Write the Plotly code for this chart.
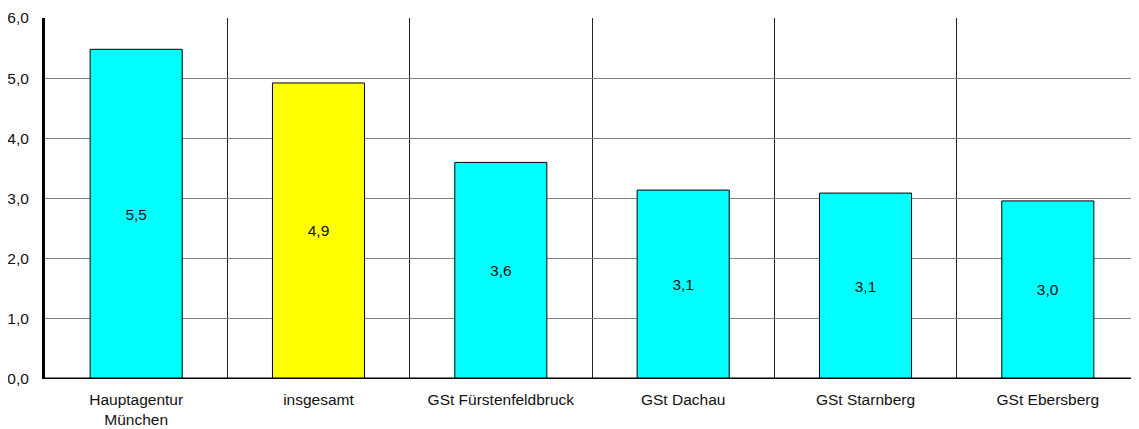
import plotly.graph_objects as go

categories = ["Hauptagentur<br>München", "insgesamt", "GSt Fürstenfeldbruck", "GSt Dachau", "GSt Starnberg", "GSt Ebersberg"]
values = [5.48, 4.92, 3.60, 3.14, 3.09, 2.96]
labels = ["5,5", "4,9", "3,6", "3,1", "3,1", "3,0"]
colors = ["#00FFFF", "#FFFF00", "#00FFFF", "#00FFFF", "#00FFFF", "#00FFFF"]
ytick_vals = [0, 1, 2, 3, 4, 5, 6]

xpos = list(range(len(categories)))
dividers = [i + 0.5 for i in xpos[:-1]]

fig = go.Figure(go.Bar(
    x=xpos, y=values, width=0.505,
    marker=dict(color=colors, line=dict(color="#000000", width=1)),
    text=labels, textposition="inside", insidetextanchor="middle",
    textfont=dict(family="Liberation Sans, Arial", size=15.5, color="#111111"),
    textangle=0,
))

fig.update_layout(
    width=1131, height=421,
    margin=dict(l=37, r=0, t=10, b=50),
    paper_bgcolor="white", plot_bgcolor="white",
    separators=",.",
    showlegend=False,
    font=dict(family="Liberation Sans, Arial", size=15.5, color="#111111"),
    xaxis=dict(
        range=[-0.5, 5.5], tickvals=xpos, ticktext=categories,
        showgrid=False, zeroline=False, showline=False, ticks="",
        minor=dict(tickvals=dividers, showgrid=True, gridcolor="#222222", gridwidth=1, ticks=""),
        tickfont=dict(size=15.5), automargin=False, ticklabelstandoff=9,
    ),
    yaxis=dict(
        range=[0, 6], tickvals=ytick_vals, tickformat=".1f",
        showgrid=True, gridcolor="#808080", gridwidth=1,
        zeroline=False, showline=True, linecolor="#000000", linewidth=3,
        ticks="", tickfont=dict(size=15.5), ticklabelstandoff=10, automargin=False,
    ),
)
fig.add_hline(y=0, line=dict(color="#000000", width=3))

fig.write_html("out.html")
